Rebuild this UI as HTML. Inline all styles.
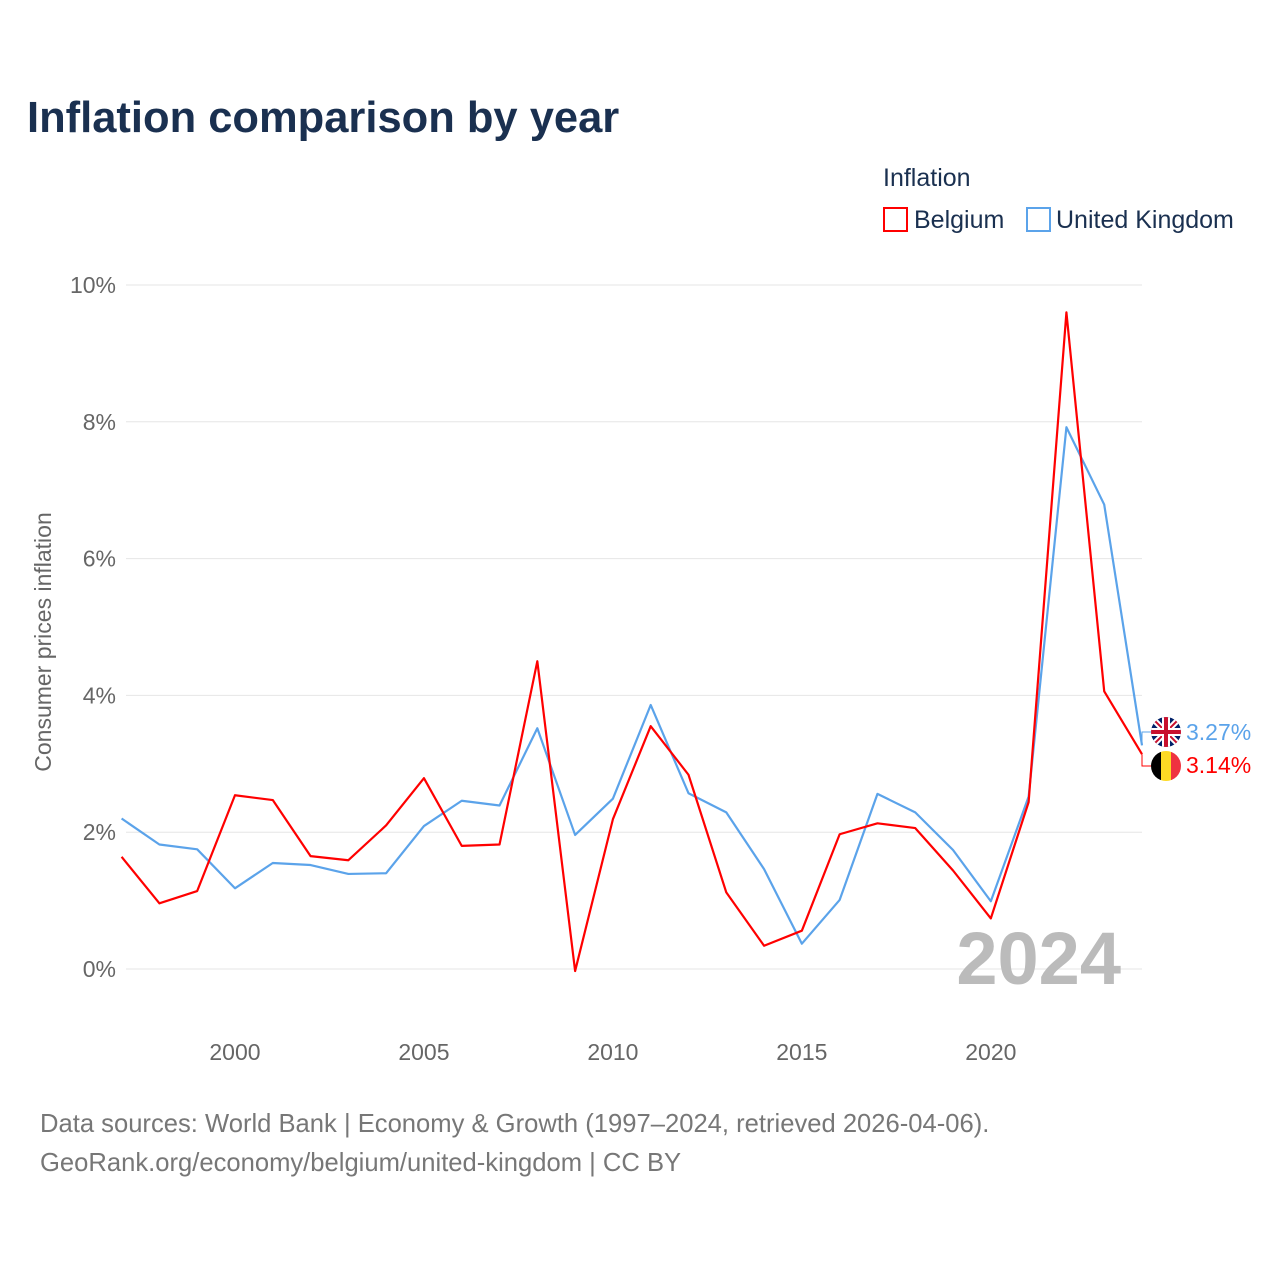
<!DOCTYPE html>
<html><head><meta charset="utf-8"><style>
body{margin:0;background:#fff;font-family:"Liberation Sans",sans-serif;}
</style></head><body>
<svg width="1280" height="1280" xmlns="http://www.w3.org/2000/svg" style="font-family:'Liberation Sans',sans-serif">
<text x="27" y="132" font-size="43.5" font-weight="bold" fill="#1a3050">Inflation comparison by year</text>
<text x="883" y="186" font-size="25" fill="#1a3050">Inflation</text>
<g><rect x="884" y="208" width="23" height="23" fill="none" stroke="#ff0000" stroke-width="2"/><text x="914" y="228" font-size="25" fill="#1a3050">Belgium</text></g>
<g><rect x="1027" y="208" width="23" height="23" fill="none" stroke="#5ba3ea" stroke-width="2"/><text x="1056" y="228" font-size="25" fill="#1a3050">United Kingdom</text></g>
<g id="grid"></g><g id="yticks"></g><g id="xticks"></g>
<text transform="translate(51,642) rotate(-90)" text-anchor="middle" font-size="23" fill="#666">Consumer prices inflation</text>
<text x="1121" y="984" text-anchor="end" font-size="74" font-weight="bold" fill="#bbb">2024</text>
<g id="lines"></g>
<g><clipPath id="cu"><circle cx="1166" cy="732" r="15"/></clipPath><g clip-path="url(#cu)"><rect x="1150" y="716" width="32" height="32" fill="#012169"/><path d="M1150 716L1182 748M1182 716L1150 748" stroke="#fff" stroke-width="6"/><path d="M1150 716L1182 748M1182 716L1150 748" stroke="#c8102e" stroke-width="2"/><path d="M1166 716V748M1150 732H1182" stroke="#fff" stroke-width="8"/><path d="M1166 716V748M1150 732H1182" stroke="#c8102e" stroke-width="4"/></g></g>
<g><clipPath id="cb"><circle cx="1166" cy="766" r="15"/></clipPath><g clip-path="url(#cb)"><rect x="1151" y="751" width="10" height="30" fill="#000"/><rect x="1161" y="751" width="10" height="30" fill="#fdda24"/><rect x="1171" y="751" width="10" height="30" fill="#ef3340"/></g></g>
<text x="1186" y="740" font-size="23" fill="#5ba3ea">3.27%</text>
<text x="1186" y="773" font-size="23" fill="#ff0000">3.14%</text>
<text x="40" y="1132" font-size="25.6" fill="#777">Data sources: World Bank | Economy &amp; Growth (1997–2024, retrieved 2026-04-06).</text>
<text x="40" y="1171" font-size="25.6" fill="#777">GeoRank.org/economy/belgium/united-kingdom | CC BY</text>
</svg>
<script>
const years=[1997,1998,1999,2000,2001,2002,2003,2004,2005,2006,2007,2008,2009,2010,2011,2012,2013,2014,2015,2016,2017,2018,2019,2020,2021,2022,2023,2024];
const belgium=[1.64,0.96,1.14,2.54,2.47,1.65,1.59,2.10,2.79,1.80,1.82,4.50,-0.03,2.19,3.55,2.84,1.12,0.34,0.56,1.97,2.13,2.06,1.44,0.74,2.44,9.60,4.06,3.14];
const uk=[2.20,1.82,1.75,1.18,1.55,1.52,1.39,1.40,2.09,2.46,2.39,3.52,1.96,2.49,3.86,2.57,2.29,1.46,0.37,1.01,2.56,2.29,1.74,0.99,2.52,7.92,6.79,3.27];
const yTicks=[0,2,4,6,8,10];
const xTicks=[2000,2005,2010,2015,2020];
const NS="http://www.w3.org/2000/svg";
const X=y=>121.6+(y-1997)*(1142-121.6)/27;
const Y=v=>969-v*68.4;
function mk(t,a,p){const e=document.createElementNS(NS,t);for(const k in a)e.setAttribute(k,a[k]);document.getElementById(p).appendChild(e);return e;}
yTicks.forEach(v=>{
 const l=mk('line',{x1:126,x2:1142,y1:Y(v),y2:Y(v),stroke:'#e6e6e6','stroke-width':1},'grid');
 
 
 const t=mk('text',{x:116,y:Y(v)+8,'text-anchor':'end','font-size':23,fill:'#666'},'yticks');
 t.textContent=v+'%';
 
 
});
xTicks.forEach(v=>{
 const t=mk('text',{x:X(v),y:1060,'text-anchor':'middle','font-size':23,fill:'#666'},'xticks');
 t.textContent=v;
 
 
});
function line(d,c,n){
 const p=mk('polyline',{points:d.map((v,i)=>X(years[i])+','+Y(v)).join(' '),fill:'none',stroke:c,'stroke-width':2.2,'stroke-linejoin':'round'},'lines');
 
 
 const last=Y(d[d.length-1]);
 const tgt=n==='uk-line'?732:766;
 mk('path',{d:`M${X(2024)} ${last}V${tgt}H1151`,fill:'none',stroke:c,'stroke-width':1},'lines');
}
line(uk,'#5ba3ea','uk-line');
line(belgium,'#ff0000','belgium-line');
</script>
</body></html>
